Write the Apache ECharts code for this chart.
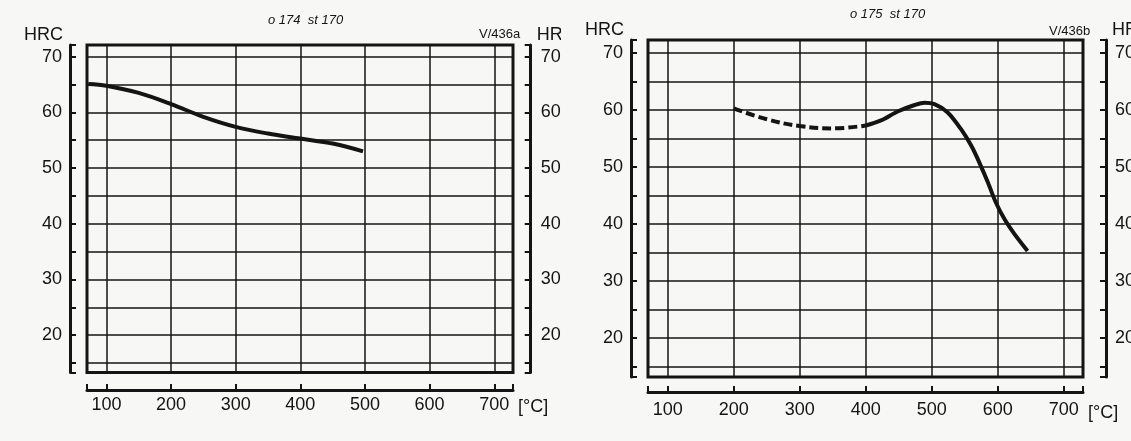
<!DOCTYPE html>
<html>
<head>
<meta charset="utf-8">
<script src="https://cdn.jsdelivr.net/npm/echarts@6/dist/echarts.min.js"></script>
<style>
html,body{margin:0;padding:0;background:#f7f7f5;}
#c{width:1131px;height:441px;}
</style>
</head>
<body>
<div id="c"></div>
<script>
// ---- data ----
var xTicks = [100, 200, 300, 400, 500, 600, 700];
var yTicks = [15, 20, 25, 30, 35, 40, 45, 50, 55, 60, 65, 70];
var yLabels = [20, 30, 40, 50, 60, 70];
var xRange = [70, 729];
var yRangeA = [13.3, 72.1];
var yRangeB = [13.2, 72.3];

var tempsA = [72, 100, 150, 200, 250, 300, 350, 400, 450, 497];
var hrcA   = [65.1, 64.8, 63.5, 61.5, 59.2, 57.4, 56.2, 55.3, 54.4, 53.0];

var tempsBdash = [200, 250, 300, 350, 400];
var hrcBdash   = [60.3, 58.4, 57.2, 56.8, 57.3];

var tempsBsolid = [400, 423, 449, 474, 489, 504, 524, 544, 560, 572, 585, 597, 610, 625, 645];
var hrcBsolid   = [57.3, 58.2, 59.8, 60.9, 61.3, 61.05, 59.6, 56.7, 53.7, 50.8, 47.3, 43.8, 40.9, 38.3, 35.3];

var titleA = 'o 174  st 170', titleB = 'o 175  st 170';
var codeA = 'V/436a', codeB = 'V/436b';

function pairs(xs, ys) { return xs.map(function (x, i) { return [x, ys[i]]; }); }

var INK = '#141414';
var BG = '#f7f7f5';
var FONT = '"Liberation Sans Narrow","Arial Narrow","Liberation Sans",Arial,sans-serif';

function xAxisCfg(gi, offset, labelMargin, namePad) {
  return {
    type: 'value', gridIndex: gi, min: xRange[0], max: xRange[1], position: 'bottom', offset: offset,
    splitNumber: 6,
    axisLine: { show: true, onZero: false, lineStyle: { color: INK, width: 3 } },
    axisTick: { show: true, inside: true, length: 6, lineStyle: { color: INK, width: 2 },
      customValues: [xRange[0]].concat(xTicks).concat([xRange[1]]) },
    axisLabel: { show: true, customValues: xTicks, margin: labelMargin, color: INK, fontSize: 18, fontFamily: FONT },
    splitLine: { show: true, lineStyle: { color: INK, width: 1.5 } },
    name: '[°C]', nameLocation: 'end', nameGap: 5,
    nameTextStyle: { color: INK, fontSize: 18, fontFamily: FONT, align: 'left', verticalAlign: 'top', padding: [namePad, 0, 0, 0] }
  };
}
function yAxisCfg(gi, pos, offset, range, margin, split, nameAlign, namePad) {
  return {
    type: 'value', gridIndex: gi, min: range[0], max: range[1], position: pos, offset: offset,
    splitNumber: 12,
    axisLine: { show: true, onZero: false, lineStyle: { color: INK, width: 3 } },
    axisTick: { show: true, inside: true, length: 6, lineStyle: { color: INK, width: 2 },
      customValues: [range[0]].concat(yTicks).concat([range[1]]) },
    axisLabel: { show: true, customValues: yLabels, margin: margin, color: INK, fontSize: 18, fontFamily: FONT },
    splitLine: { show: split, lineStyle: { color: INK, width: 1.5 } },
    name: 'HRC', nameLocation: 'end', nameGap: 10,
    nameTextStyle: { color: INK, fontSize: 18, fontFamily: FONT, align: nameAlign, verticalAlign: 'middle', padding: namePad }
  };
}

var chart = echarts.init(document.getElementById('c'), null, { renderer: 'canvas' });
chart.setOption({
  backgroundColor: BG,
  animation: false,
  grid: [
    { left: 87, right: 618, top: 45, bottom: 68.5, show: true, borderColor: INK, borderWidth: 3,
      backgroundColor: 'transparent', containLabel: false, outerBoundsMode: 'none' },
    { left: 648, right: 48, top: 40, bottom: 64, show: true, borderColor: INK, borderWidth: 3,
      backgroundColor: 'transparent', containLabel: false, outerBoundsMode: 'none' }
  ],
  xAxis: [ xAxisCfg(0, 17.5, 6, 8), xAxisCfg(1, 15, 9, 12) ],
  yAxis: [
    yAxisCfg(0, 'left', 17, yRangeA, 8, true, 'right', [0, 7, 0, 0]),
    yAxisCfg(0, 'right', 17.7, yRangeA, 10, false, 'left', [0, 0, 0, 6]),
    yAxisCfg(1, 'left', 17, yRangeB, 8, true, 'right', [0, 7, 0, 0]),
    yAxisCfg(1, 'right', 23, yRangeB, 9, false, 'left', [0, 0, 0, 6])
  ],
  series: [
    { type: 'line', xAxisIndex: 0, yAxisIndex: 0, data: pairs(tempsA, hrcA), smooth: 0.35, showSymbol: false,
      lineStyle: { color: INK, width: 4 } },
    { type: 'line', xAxisIndex: 1, yAxisIndex: 2, data: pairs(tempsBdash, hrcBdash), smooth: 0.4, showSymbol: false,
      lineStyle: { color: INK, width: 4, type: [9, 4] } },
    { type: 'line', xAxisIndex: 1, yAxisIndex: 2, data: pairs(tempsBsolid, hrcBsolid), smooth: 0.3, showSymbol: false,
      lineStyle: { color: INK, width: 4 } }
  ],
  graphic: [
    { type: 'rect', left: 561, top: 0, shape: { width: 24, height: 441 }, style: { fill: BG }, z: 100 },
    { type: 'text', left: 268, top: 14, style: { text: titleA, fill: INK, fontSize: 13, fontStyle: 'italic', fontFamily: FONT } },
    { type: 'text', left: 850, top: 8, style: { text: titleB, fill: INK, fontSize: 13, fontStyle: 'italic', fontFamily: FONT } },
    { type: 'text', left: 479, top: 28, style: { text: codeA, fill: INK, fontSize: 13, fontFamily: '"Liberation Sans",Arial,sans-serif' } },
    { type: 'text', left: 1049, top: 25, style: { text: codeB, fill: INK, fontSize: 13, fontFamily: '"Liberation Sans",Arial,sans-serif' } }
  ]
});
</script>
</body>
</html>
